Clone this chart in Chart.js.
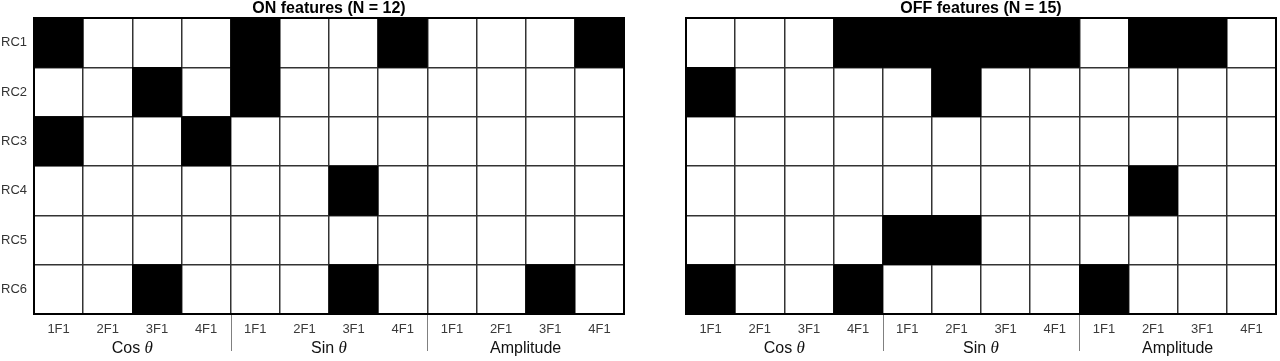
<!DOCTYPE html>
<html><head><meta charset="utf-8">
<script src="https://cdn.jsdelivr.net/npm/chart.js@4.4.1/dist/chart.umd.min.js"></script>
<style>
html,body{margin:0;padding:0;background:#fff;}
#wrap{position:relative;width:1280px;height:361px;overflow:hidden;}
.box{position:absolute;top:0;width:640px;height:361px;}
canvas{display:block;}
</style></head><body>
<div id="wrap">
<div class="box" style="left:0"><canvas id="on" width="640" height="361"></canvas></div>
<div class="box" style="left:640px"><canvas id="off" width="640" height="361"></canvas></div>
</div>
<script>
// ---- data ----
const columns = ['1F1','2F1','3F1','4F1','1F1','2F1','3F1','4F1','1F1','2F1','3F1','4F1'];
const rowLabels = ['RC1','RC2','RC3','RC4','RC5','RC6'];
const groupNames = ['Cos','Sin','Amplitude'];
const groupSymbols = ['θ','θ',''];
const onTitle = 'ON features (N = 12)';
const offTitle = 'OFF features (N = 15)';
const onFeatures = [
  [1,0,0,0, 1,0,0,1, 0,0,0,1],
  [0,0,1,0, 1,0,0,0, 0,0,0,0],
  [1,0,0,1, 0,0,0,0, 0,0,0,0],
  [0,0,0,0, 0,0,1,0, 0,0,0,0],
  [0,0,0,0, 0,0,0,0, 0,0,0,0],
  [0,0,1,0, 0,0,1,0, 0,0,1,0]
];
const offFeatures = [
  [0,0,0,1, 1,1,1,1, 0,1,1,0],
  [1,0,0,0, 0,1,0,0, 0,0,0,0],
  [0,0,0,0, 0,0,0,0, 0,0,0,0],
  [0,0,0,0, 0,0,0,0, 0,1,0,0],
  [0,0,0,0, 1,1,0,0, 0,0,0,0],
  [1,0,0,1, 0,0,0,0, 1,0,0,0]
];

const FONT = '"Liberation Sans", Arial, sans-serif';

const framePlugin = {
  id: 'frame',
  afterDatasetsDraw(chart) {
    const {ctx, chartArea: a} = chart;
    ctx.save();
    ctx.strokeStyle = '#000';
    ctx.lineWidth = 2;
    ctx.strokeRect(a.left, a.top, a.right - a.left, a.bottom - a.top);
    ctx.restore();
  }
};

const groupPlugin = {
  id: 'groups',
  afterDraw(chart) {
    const {ctx, chartArea: a} = chart;
    const xs = chart.scales.x;
    ctx.save();
    ctx.strokeStyle = '#808080';
    ctx.lineWidth = 1;
    for (let g = 1; g < groupNames.length; g++) {
      const x = Math.round((xs.getPixelForTick(4*g-1) + xs.getPixelForTick(4*g)) / 2) + 0.5;
      ctx.beginPath();
      ctx.moveTo(x, a.bottom + 1);
      ctx.lineTo(x, a.bottom + 37);
      ctx.stroke();
    }
    ctx.fillStyle = '#111';
    ctx.textBaseline = 'middle';
    ctx.textAlign = 'left';
    const y = a.bottom + 35;
    for (let g = 0; g < groupNames.length; g++) {
      const cx = (xs.getPixelForTick(4*g) + xs.getPixelForTick(4*g+3)) / 2;
      const fN = '16px ' + FONT;
      const fS = 'italic 17px "Liberation Serif", "DejaVu Serif", serif';
      const name = groupSymbols[g] ? groupNames[g] + ' ' : groupNames[g];
      ctx.font = fN; const w1 = ctx.measureText(name).width;
      ctx.font = fS; const w2 = groupSymbols[g] ? ctx.measureText(groupSymbols[g]).width : 0;
      const x0 = cx - (w1 + w2) / 2;
      ctx.font = fN; ctx.fillText(name, x0, y);
      if (groupSymbols[g]) { ctx.font = fS; ctx.fillText(groupSymbols[g], x0 + w1, y); }
    }
    ctx.restore();
  }
};

function makeChart(id, matrix, title, yWidth, padRight, showY) {
  const datasets = matrix.map((row, r) => ({
    label: rowLabels[r],
    data: row.map(v => v ? [r, r + 1] : null),
    backgroundColor: '#000',
    borderWidth: 0,
    barPercentage: 1,
    categoryPercentage: 1,
    grouped: false
  }));
  const rowTicks = [];
  for (let i = 0; i <= rowLabels.length * 2; i++) rowTicks.push(i / 2);
  return new Chart(document.getElementById(id), {
    type: 'bar',
    data: { labels: columns, datasets },
    options: {
      responsive: false,
      animation: false,
      devicePixelRatio: 1,
      layout: { padding: { left: 0, right: padRight, top: 0, bottom: 0 } },
      plugins: {
        legend: { display: false },
        tooltip: { enabled: false },
        title: {
          display: true, text: title, color: '#000', fullSize: false,
          font: { family: FONT, size: 16, weight: 'bold', lineHeight: 1.0 },
          padding: { top: 1, bottom: 1 }
        }
      },
      scales: {
        x: {
          type: 'category',
          offset: true,
          grid: { offset: true, color: '#333', lineWidth: 1.5, drawTicks: false },
          border: { color: '#000', width: 2 },
          ticks: { color: '#3a3a3a', font: { family: FONT, size: 13 }, padding: 8, maxRotation: 0, autoSkip: false },
          afterFit(s) { s.height = 47; }
        },
        y: {
          type: 'linear',
          min: 0, max: rowLabels.length,
          reverse: true,
          afterBuildTicks(s) { s.ticks = rowTicks.map(v => ({ value: v })); },
          grid: {
            color: ctx => (ctx.tick && Number.isInteger(ctx.tick.value)) ? '#333' : 'rgba(0,0,0,0)',
            lineWidth: 1.5, drawTicks: false
          },
          border: { color: '#000', width: 2 },
          ticks: {
            display: showY,
            autoSkip: false,
            color: '#333',
            font: { family: FONT, size: 13 },
            padding: 7,
            callback: v => Number.isInteger(v) ? '' : rowLabels[Math.floor(v)]
          },
          afterFit(s) { s.width = yWidth; }
        }
      }
    },
    plugins: [framePlugin, groupPlugin]
  });
}

makeChart('on', onFeatures, onTitle, 34, 16, true);
makeChart('off', offFeatures, offTitle, 46, 4, false);
</script>
</body></html>
